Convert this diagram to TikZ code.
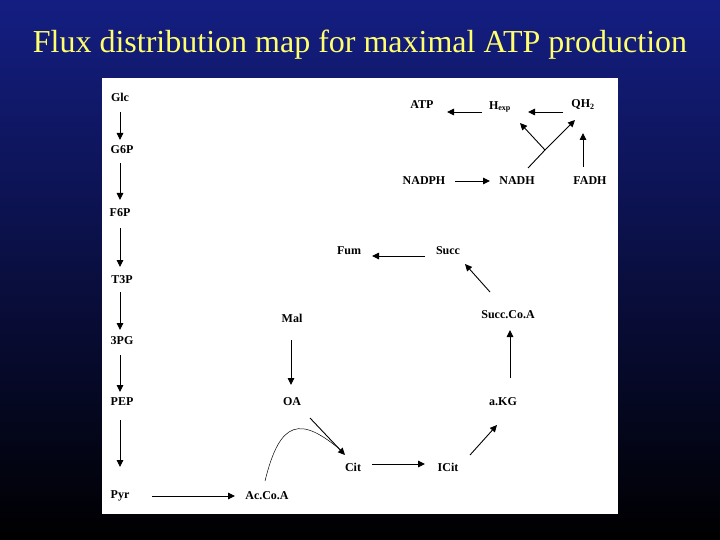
\documentclass[tikz,border=0pt]{standalone}
\usepackage{fontspec}
\setmainfont{Liberation Serif}
\usetikzlibrary{arrows.meta}
\begin{document}
\begin{tikzpicture}[x=1pt,y=-1pt,
  lab/.style={font=\bfseries\fontsize{12}{14}\selectfont,inner sep=0pt},
  ar/.style={-{Triangle[length=7pt,width=6.5pt]},line width=0.9pt}]
\shade[top color={rgb,255:red,20;green,30;blue,130},bottom color=black] (0,0) rectangle (720,540);
\useasboundingbox (0,0) rectangle (720,540);
\fill[white] (102,78) rectangle (618,514);
\node[text={rgb,255:red,255;green,255;blue,110},font=\fontsize{32}{34}\selectfont] (title) at (360,45) {Flux distribution map for maximal ATP production};
\node[lab] (glc) at (120,97) {Glc};
\node[lab] (g6p) at (122,150) {G6P};
\node[lab] (f6p) at (120,213) {F6P};
\node[lab] (t3p) at (122,280) {T3P};
\node[lab] (pg) at (122,341) {3PG};
\node[lab] (pep) at (122,402) {PEP};
\node[lab] (pyr) at (120,496) {Pyr};
\node[lab] (acoa) at (267,496) {Ac.Co.A};
\node[lab] (atp) at (422,105) {ATP};
\node[lab] (hexp) at (500,107) {H\textsubscript{exp}};
\node[lab] (qh2) at (583,105) {QH\textsubscript{2}};
\node[lab] (nadph) at (424,181) {NADPH};
\node[lab] (nadh) at (517,181) {NADH};
\node[lab] (fadh) at (590,181) {FADH};
\node[lab] (fum) at (349,251) {Fum};
\node[lab] (succ) at (448,251) {Succ};
\node[lab] (scoa) at (508,315) {Succ.Co.A};
\node[lab] (mal) at (292,318) {Mal};
\node[lab] (oa) at (292,402) {OA};
\node[lab] (akg) at (503,402) {a.KG};
\node[lab] (cit) at (353,467) {Cit};
\node[lab] (icit) at (448,467) {ICit};
\draw[ar] (120,112) -- (120,140);
\draw[ar] (120,163) -- (120,200);
\draw[ar] (120,228) -- (120,267);
\draw[ar] (120,292) -- (120,330);
\draw[ar] (120,355) -- (120,392);
\draw[ar] (120,420) -- (120,467);
\draw[ar] (152,496) -- (235,496);
\draw[ar] (482,112) -- (447,112);
\draw[ar] (563,112) -- (528,112);
\draw[ar] (455,181) -- (490,181);
\draw[ar] (583,167) -- (583,133);
\coordinate (fork) at (545,150);
\draw[line width=0.9pt] (528,168) -- (fork);
\draw[ar] (fork) -- (520,123);
\draw[ar] (fork) -- (575,120);
\draw[ar] (425,256) -- (372,256);
\draw[ar] (490,292) -- (465,264);
\draw[ar] (291,340) -- (291,385);
\draw[ar] (510,378) -- (510,330);
\draw[ar] (470,455) -- (497,425);
\draw[ar] (372,464) -- (425,464);
\draw[ar] (310,418) -- (345,455);
\draw[line width=0.5pt] (265,481) .. controls (280,420) and (300,415) .. (343,452);
\end{tikzpicture}
\end{document}
